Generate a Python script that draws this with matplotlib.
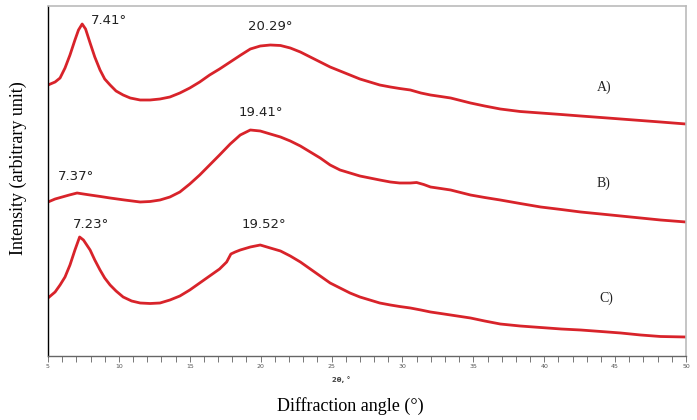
import matplotlib
matplotlib.use("Agg")
import matplotlib.pyplot as plt
from matplotlib.ticker import MultipleLocator

# curve A (top)
a_x = [5.0, 5.5, 5.85, 6.2, 6.55, 6.9, 7.15, 7.41, 7.65, 7.97, 8.3, 8.67, 9.0, 9.38,
       9.8, 10.3, 10.8, 11.5, 12.2, 12.9, 13.6, 14.3, 15.0, 15.7, 16.4, 17.1, 17.85,
       18.6, 19.27, 19.97, 20.68, 21.4, 22.09, 22.8, 23.5, 24.2, 24.9, 25.6, 26.3,
       27.0, 27.7, 28.4, 29.15, 29.8, 30.56, 31.3, 31.98, 32.7, 33.4, 34.1, 34.8,
       35.8, 36.9, 38.3, 39.75, 41.2, 42.57, 44.0, 45.4, 46.8, 48.2, 50.0]
a_y = [271, 274, 278, 288, 301, 316, 326, 332, 327, 313, 299, 286, 277, 271,
       265, 261, 258, 256, 256, 257, 259, 263, 268, 274, 281, 287, 294,
       301, 307, 310, 311, 310.5, 308, 304, 299, 294, 289, 285, 281,
       277, 274, 271, 269, 267.5, 266, 263, 261, 259.5, 258, 255.5, 253,
       250, 247, 244.5, 243, 241.5, 240, 238.5, 237, 235.5, 234, 232]

# curve B (middle)
b_x = [5.0, 5.5, 6.0, 6.5, 7.05, 7.5, 7.97, 8.7, 9.38, 10.4, 11.5, 12.2, 12.9, 13.6,
       14.3, 15.0, 15.7, 16.4, 17.1, 17.85, 18.56, 19.27, 19.97, 20.68, 21.4, 22.09,
       22.8, 23.5, 24.2, 24.9, 25.6, 26.3, 27.0, 27.7, 28.4, 29.15, 29.8, 30.56,
       31.0, 31.5, 31.98, 32.7, 33.4, 34.1, 34.8, 35.8, 36.9, 38.3, 39.75, 41.2,
       42.57, 44.0, 45.4, 46.8, 48.2, 50.0]
b_y = [154, 157, 159, 161, 163, 162, 161, 159.5, 158, 156, 154, 154.5, 156, 159,
       164, 172, 181, 191, 201, 212, 221, 226, 225, 222, 219, 215,
       210, 204, 198, 191, 186, 183, 180, 178, 176, 174, 173, 173,
       173.5, 171.5, 169, 167.5, 166, 163.5, 161, 158.5, 156, 152.5, 149, 146.5,
       144, 142, 140, 138, 136, 134]

# curve C (bottom)
c_x = [5.0, 5.5, 5.85, 6.2, 6.55, 6.9, 7.23, 7.5, 7.97, 8.3, 8.67, 9.0, 9.38, 9.8,
       10.3, 10.9, 11.5, 12.2, 12.9, 13.6, 14.3, 15.0, 15.7, 16.4, 17.1, 17.6, 17.9,
       18.2, 18.56, 19.27, 19.97, 20.68, 21.4, 22.09, 22.8, 23.5, 24.2, 24.9, 25.6,
       26.3, 27.0, 27.7, 28.4, 29.15, 29.8, 30.56, 31.3, 31.98, 32.7, 33.4, 34.1,
       34.8, 35.8, 36.9, 38.3, 39.75, 41.2, 42.57, 44.0, 45.4, 46.8, 48.2, 50.0]
c_y = [58, 64, 71, 79, 91, 106, 119, 116, 106, 96, 86, 78, 71, 65,
       59, 55, 53, 52.5, 53, 56, 60, 66, 73, 80, 87, 94, 102,
       104, 106, 109, 111, 108, 105, 100, 94, 87, 80, 73, 68,
       63, 59, 56, 53, 51, 49.5, 48, 46, 44, 42.5, 41, 39.5,
       38, 35, 32, 30, 28.5, 27, 26, 24.5, 23, 21, 19.5, 19]

peak_labels = ["7.41°", "20.29°", "7.37°", "19.41°", "7.23°", "19.52°"]
peak_lx = [9.3, 20.7, 7.0, 20.0, 8.0, 20.2]
peak_ly = [336, 330, 179, 244, 132, 131]
curve_labels = ["A)", "B)", "C)"]
curve_lx = [44.2, 44.2, 44.4]
curve_ly = [269, 173, 58]

red = "#d8232a"

fig = plt.figure(figsize=(6.97, 4.2), dpi=100)
ax = fig.add_axes([48 / 697, 64 / 420, 638 / 697, 350 / 420])

for xs, ys in [(a_x, a_y), (b_x, b_y), (c_x, c_y)]:
    ax.plot(xs, ys, color=red, lw=2.0, solid_joinstyle="round")

for t, x, y in zip(peak_labels, peak_lx, peak_ly):
    ax.text(x, y, t, fontsize=9.5, color="#222222", ha="center", va="center",
            family="DejaVu Sans")
for t, x, y in zip(curve_labels, curve_lx, curve_ly):
    ax.text(x, y, t, fontsize=10, color="#222222", ha="center", va="center",
            family="Liberation Serif")

ax.set_xlim(5, 50)
ax.set_ylim(0, 350)
ax.xaxis.set_major_locator(MultipleLocator(5))
ax.xaxis.set_minor_locator(MultipleLocator(1))
ax.set_yticks([])
ax.tick_params(axis="x", which="both", direction="out", length=4, width=0.7,
               colors="#777777", labelsize=4.5, labelcolor="#555555", pad=2)

ax.spines["left"].set_color("black")
ax.spines["left"].set_linewidth(1.0)
ax.spines["bottom"].set_color("#666666")
ax.spines["bottom"].set_linewidth(1.0)
for s in ["top", "right"]:
    ax.spines[s].set_color("#bbbbbb")
    ax.spines[s].set_linewidth(1.2)

fig.text(341 / 697, 1 - 380 / 420, "2θ, °", fontsize=5, fontweight="bold",
         color="#444444", ha="center", va="center")
fig.text(350 / 697, 1 - 406 / 420, "Diffraction angle (°)", fontsize=13,
         family="Liberation Serif", ha="center", va="center")
fig.text(18 / 697, 1 - 168 / 420, "Intensity (arbitrary unit)", fontsize=13,
         family="Liberation Serif", ha="center", va="center", rotation=90)

fig.savefig("out.png", dpi=100)
